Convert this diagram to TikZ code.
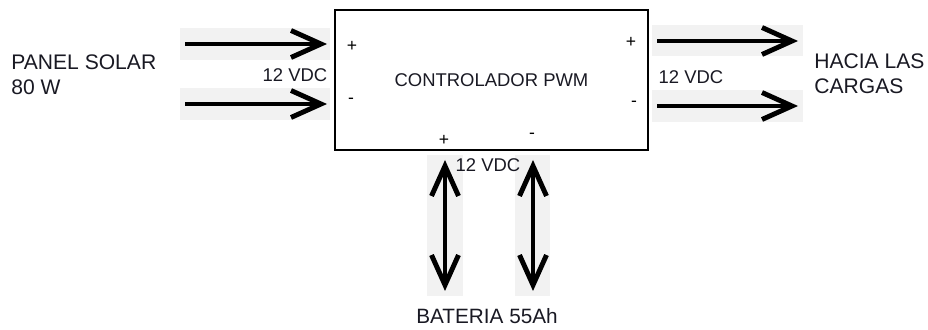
\documentclass[tikz,border=0pt]{standalone}
\usepackage{fontspec}
\setmainfont{Liberation Sans}
\usetikzlibrary{arrows.meta}
\definecolor{arrowbg}{RGB}{242,242,242}
\definecolor{inktext}{RGB}{25,25,35}

\begin{document}
\begin{tikzpicture}[x=0.02cm, y=-0.02cm,
    flow/.style={line width=2.8pt, -{Straight Barb[length=6mm, width=5.4mm]}},
    both/.style={line width=2.8pt, {Straight Barb[length=6mm, width=5.4mm]}-{Straight Barb[length=6mm, width=5.4mm]}},
    lbl/.style={font=\fontsize{10.5}{12}\selectfont, text=inktext, inner sep=0pt},
    big/.style={font=\fontsize{12}{14}\selectfont, text=inktext, align=left, inner sep=0pt},
    pol/.style={font=\fontsize{10}{12}\selectfont, inner sep=0pt}]
    \useasboundingbox (0,0) rectangle (928,330);
    % grey backdrops behind the arrows
    \fill[arrowbg] (180,28) rectangle (330,60);
    \fill[arrowbg] (180,88) rectangle (330,120);
    \fill[arrowbg] (652,25) rectangle (803,56);
    \fill[arrowbg] (652,90) rectangle (803,122);
    \fill[arrowbg] (427,155) rectangle (463,296);
    \fill[arrowbg] (515,155) rectangle (550,296);
    % controller
    \node[draw, line width=0.8pt, minimum width=6.26cm, minimum height=2.8cm,
          lbl] (pwm) at (491.5,80) {CONTROLADOR PWM};
    % solar panel side
    \node[big, anchor=west] (panel) at (11,75) {PANEL SOLAR\\80 W};
    \coordinate (inPa) at (185,44);  \coordinate (inPb) at (327,44);
    \coordinate (inNa) at (185,104); \coordinate (inNb) at (327,104);
    \draw[flow] (inPa) -- (inPb);
    \draw[flow] (inNa) -- (inNb);
    \node[lbl] (vin) at (295,75) {12 VDC};
    \node[pol] (inplus) at (352,46) {+};
    \node[pol] (inminus) at (351,101) {-};
    % load side
    \node[big, anchor=west] (loads) at (814,74) {HACIA LAS\\CARGAS};
    \coordinate (outPa) at (657,41);  \coordinate (outPb) at (798,41);
    \coordinate (outNa) at (657,106); \coordinate (outNb) at (798,106);
    \draw[flow] (outPa) -- (outPb);
    \draw[flow] (outNa) -- (outNb);
    \node[lbl] (vout) at (691,77) {12 VDC};
    \node[pol] (outplus) at (631,42) {+};
    \node[pol] (outminus) at (634,104) {-};
    % battery side
    \coordinate (batPa) at (445,160); \coordinate (batPb) at (445,291);
    \coordinate (batNa) at (533,160); \coordinate (batNb) at (533,291);
    \draw[both] (batPa) -- (batPb);
    \draw[both] (batNa) -- (batNb);
    \node[pol] (batplus) at (444,140) {+};
    \node[pol] (batminus) at (532,136) {-};
    \node[lbl] (vbat) at (488,165) {12 VDC};
    \node[big, font=\fontsize{11.8}{14}\selectfont] (battery) at (487,316) {BATERIA 55Ah};
\end{tikzpicture}
\end{document}
